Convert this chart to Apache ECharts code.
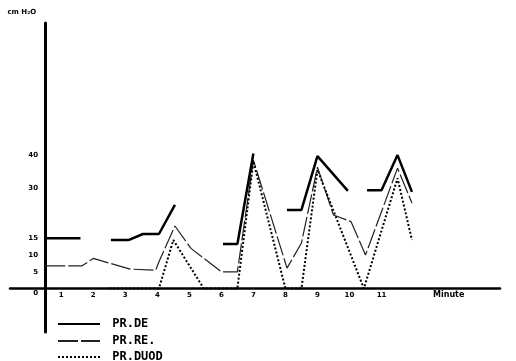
<!DOCTYPE html>
<html>
<head>
<meta charset="utf-8">
<script src="https://cdn.jsdelivr.net/npm/echarts@6/dist/echarts.min.js"></script>
<style>
html,body{margin:0;padding:0;background:#fff;}
#c{width:516px;height:361px;}
</style>
</head>
<body>
<div id="c"></div>
<script>
// Series names
const seriesNames = ['PR.DE', 'PR.RE.', 'PR.DUOD'];

// PR.DE (x in time steps, y in cm H2O; null = break in the trace)
const deX = [0, 2.2, 3, 4.1, 5.2, 6.1, 7.1, 8.1, 9, 11.1, 12, 13, 14, 15.1, 16, 17, 18.9, 19.5, 20.1, 21, 22, 22.9];
const deY = [15, 15, null, 14.5, 14.5, 16.3, 16.3, 25, null, 13.3, 13.3, 40.4, null, 23.5, 23.5, 39.6, 29.2, null, 29.4, 29.4, 39.9, 28.9];

// PR.RE.
const reX = [0, 2.3, 3, 5.3, 6.9, 7.1, 8.1, 9.1, 11, 12, 13, 15.1, 16, 17, 18, 19.1, 20, 22, 22.9];
const reY = [6.8, 6.8, 9.0, 5.8, 5.5, 8.0, 18.7, 12.0, 5.0, 5.0, 38.4, 6.1, 13.6, 36.3, 22, 20, 10, 36, 25.6];

// PR.DUOD
const duX = [4, 7.1, 8, 9.9, 12, 13, 15, 16, 17, 19.9, 22, 22.9];
const duY = [0, 0, 14.5, 0, 0, 38, 0, 0, 35.5, 0, 33, 14.5];

// Tick labels
const yTickValues = [0, 5, 10, 15, 30, 40];
const yTickLabels = ['0', '5', '10', '15', '30', '40'];
const xTickValues = [1, 3, 5, 7, 9, 11, 13, 15, 17, 19, 21];
const xTickLabels = ['1', '2', '3', '4', '5', '6', '7', '8', '9', '10', '11'];

const yAxisTitle = 'cm H\u2082O';
const xAxisTitle = 'Minute';

function pairs(xs, ys) {
  return xs.map((x, i) => [x, ys[i]]);
}

const legendTops = [313, 330, 346];

const chart = echarts.init(document.getElementById('c'), null, {renderer: 'canvas'});
chart.setOption({
  backgroundColor: '#ffffff',
  animation: false,
  grid: {left: 10, right: 16, top: 23, bottom: 29, containLabel: false, outerBoundsMode: 'none'},
  xAxis: {
    type: 'value',
    min: -2.2,
    max: 28.4,
    axisLine: {show: true, onZero: true, lineStyle: {color: '#000', width: 2.5}},
    axisTick: {show: false},
    splitLine: {show: false},
    axisLabel: {
      customValues: xTickValues,
      formatter: v => { const k = xTickValues.indexOf(v); return k >= 0 ? xTickLabels[k] : ''; },
      color: '#000', fontSize: 7, fontWeight: 'bold', fontFamily: 'DejaVu Sans', margin: -40
    },
    name: xAxisTitle,
    nameLocation: 'end',
    nameGap: -67,
    nameTextStyle: {color: '#000', fontSize: 8, fontWeight: 'bold', fontFamily: 'DejaVu Sans', verticalAlign: 'top', align: 'left', padding: [2, 0, 0, 0]}
  },
  yAxis: {
    type: 'value',
    min: -13,
    max: 79.4,
    axisLine: {show: true, onZero: true, lineStyle: {color: '#000', width: 3}},
    axisTick: {show: false},
    splitLine: {show: false},
    axisLabel: {
      customValues: yTickValues,
      formatter: v => { const k = yTickValues.indexOf(v); if (k < 0) return ''; return v === 0 ? '{z|' + yTickLabels[k] + '}' : yTickLabels[k]; },
      color: '#000', fontSize: 7, fontWeight: 'bold', fontFamily: 'DejaVu Sans', margin: -28,
      rich: {z: {fontSize: 7, fontWeight: 'bold', fontFamily: 'DejaVu Sans', color: '#000', padding: [10, 0, 0, 0]}}
    },
    name: yAxisTitle,
    nameLocation: 'end',
    nameGap: 7,
    nameTextStyle: {color: '#000', fontSize: 7, fontWeight: 'bold', fontFamily: 'DejaVu Sans', align: 'right', padding: [0, 9, 0, 0]}
  },
  legend: seriesNames.map((n, i) => ({
    left: 52,
    top: legendTops[i],
    itemWidth: 42,
    itemHeight: 10,
    data: [n],
    itemStyle: {opacity: 0},
    textStyle: {color: '#000', fontSize: 12, fontWeight: 'bold', fontFamily: 'DejaVu Sans Mono'},
    formatter: name => ' ' + name
  })),
  series: [
    {
      name: seriesNames[0], type: 'line', symbol: 'circle', showSymbol: false, connectNulls: false,
      data: pairs(deX, deY),
      lineStyle: {color: '#000', width: 2.5, type: 'solid'},
      itemStyle: {color: '#000'}, z: 3
    },
    {
      name: seriesNames[1], type: 'line', symbol: 'circle', showSymbol: false, connectNulls: false,
      data: pairs(reX, reY),
      lineStyle: {color: '#222', width: 1.2, type: [20, 3]},
      itemStyle: {color: '#222'}, z: 2
    },
    {
      name: seriesNames[2], type: 'line', symbol: 'circle', showSymbol: false, connectNulls: false,
      data: pairs(duX, duY),
      lineStyle: {color: '#000', width: 2, type: [2, 2]},
      itemStyle: {color: '#000'}, z: 4
    }
  ]
});
</script>
</body>
</html>
